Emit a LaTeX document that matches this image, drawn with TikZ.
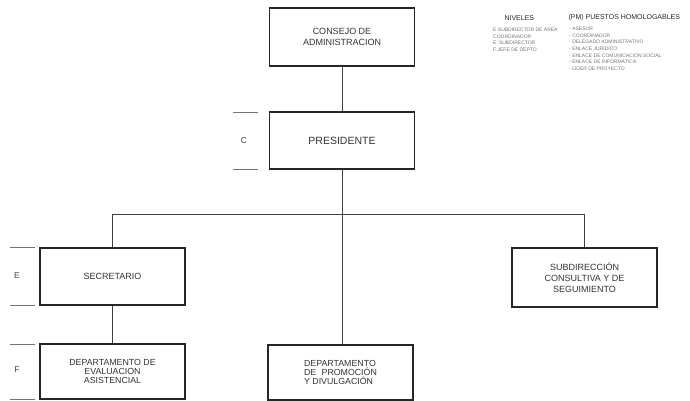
\documentclass[tikz,border=0pt]{standalone}
\usepackage{fontspec}
\setmainfont{Liberation Sans}
\begin{document}
\begin{tikzpicture}[x=1pt,y=-1pt,
  box/.style={draw=black!85, line width=1.1pt, rectangle, minimum width=145pt, inner sep=0pt, align=center, font=\fontsize{9}{10.8}\selectfont, text=black!80},
  dbox/.style={box, font=\fontsize{8.8}{8.8}\selectfont},
  link/.style={draw=black!75, line width=0.9pt},
  lvl/.style={draw=black!55, line width=0.6pt},
  lvltext/.style={font=\fontsize{8.5}{9}\selectfont, text=black!75},
  legh/.style={font=\fontsize{7}{8}\selectfont, text=black!85, anchor=west},
  legi/.style={font=\fontsize{5}{6.6}\selectfont, text=black!55, align=left, anchor=north west, inner sep=0pt}]
\useasboundingbox (0,0) rectangle (690,401);

% boxes
\node[box, minimum height=58pt] (consejo) at (342,37) {CONSEJO DE\\ADMINISTRACION};
\node[box, minimum height=57pt, font=\fontsize{10.5}{12}\selectfont] (pres) at (342,140.5) {PRESIDENTE};
\node[box, minimum height=57pt] (secr) at (112.5,276.5) {SECRETARIO};
\node[box, minimum height=59pt] (subd) at (584.5,277.5) {SUBDIRECCIÓN\\CONSULTIVA Y DE\\SEGUIMIENTO};
\node[dbox, minimum height=55pt] (deva) at (112.5,371.5) {DEPARTAMENTO DE\\EVALUACION\\ASISTENCIAL};
\node[dbox, minimum height=55pt, align=left] (dpro) at (340.5,372.5) {DEPARTAMENTO\\DE\hspace{0.6em}PROMOCIÓN\\Y DIVULGACIÓN};

% connectors
\coordinate (bus) at (342,214);
\draw[link] (consejo.south) -- (pres.south |- pres.north);
\draw[link] (pres.south) -- (pres.south |- dpro.north);
\draw[link] (secr.north) -- (secr.north |- bus) -- (subd.north |- bus) -- (subd.north);
\draw[link] (secr.south) -- (deva.north);

% level marks
\draw[lvl] (233,112) -- (258,112);
\draw[lvl] (233,169) -- (258,169);
\draw[lvl] (10,247) -- (35,247);
\draw[lvl] (10,305) -- (35,305);
\draw[lvl] (10,344) -- (35,344);
\draw[lvl] (10,399.5) -- (35,399.5);
\node[lvltext] (lc) at (244,141) {C};
\node[lvltext] (le) at (17,276) {E};
\node[lvltext] (lf) at (17,370) {F};

% legend
\node[legh] (nivh) at (501,18) {NIVELES};
\node[legh] (pmh) at (565,18) {(PM) PUESTOS HOMOLOGABLES};
\node[legi] (nivl) at (493,27) {E SUBDIRECTOR DE ÁREA\\COORDINADOR\\E' SUBDIRECTOR\\F JEFE DE DEPTO.};
\node[legi] (pml) at (569,27) {- ASESOR\\- COORDINADOR\\- DELEGADO ADMINISTRATIVO\\- ENLACE JURÍDICO\\- ENLACE DE COMUNICACIÓN SOCIAL\\- ENLACE DE INFORMÁTICA\\- LÍDER DE PROYECTO};
\end{tikzpicture}
\end{document}
